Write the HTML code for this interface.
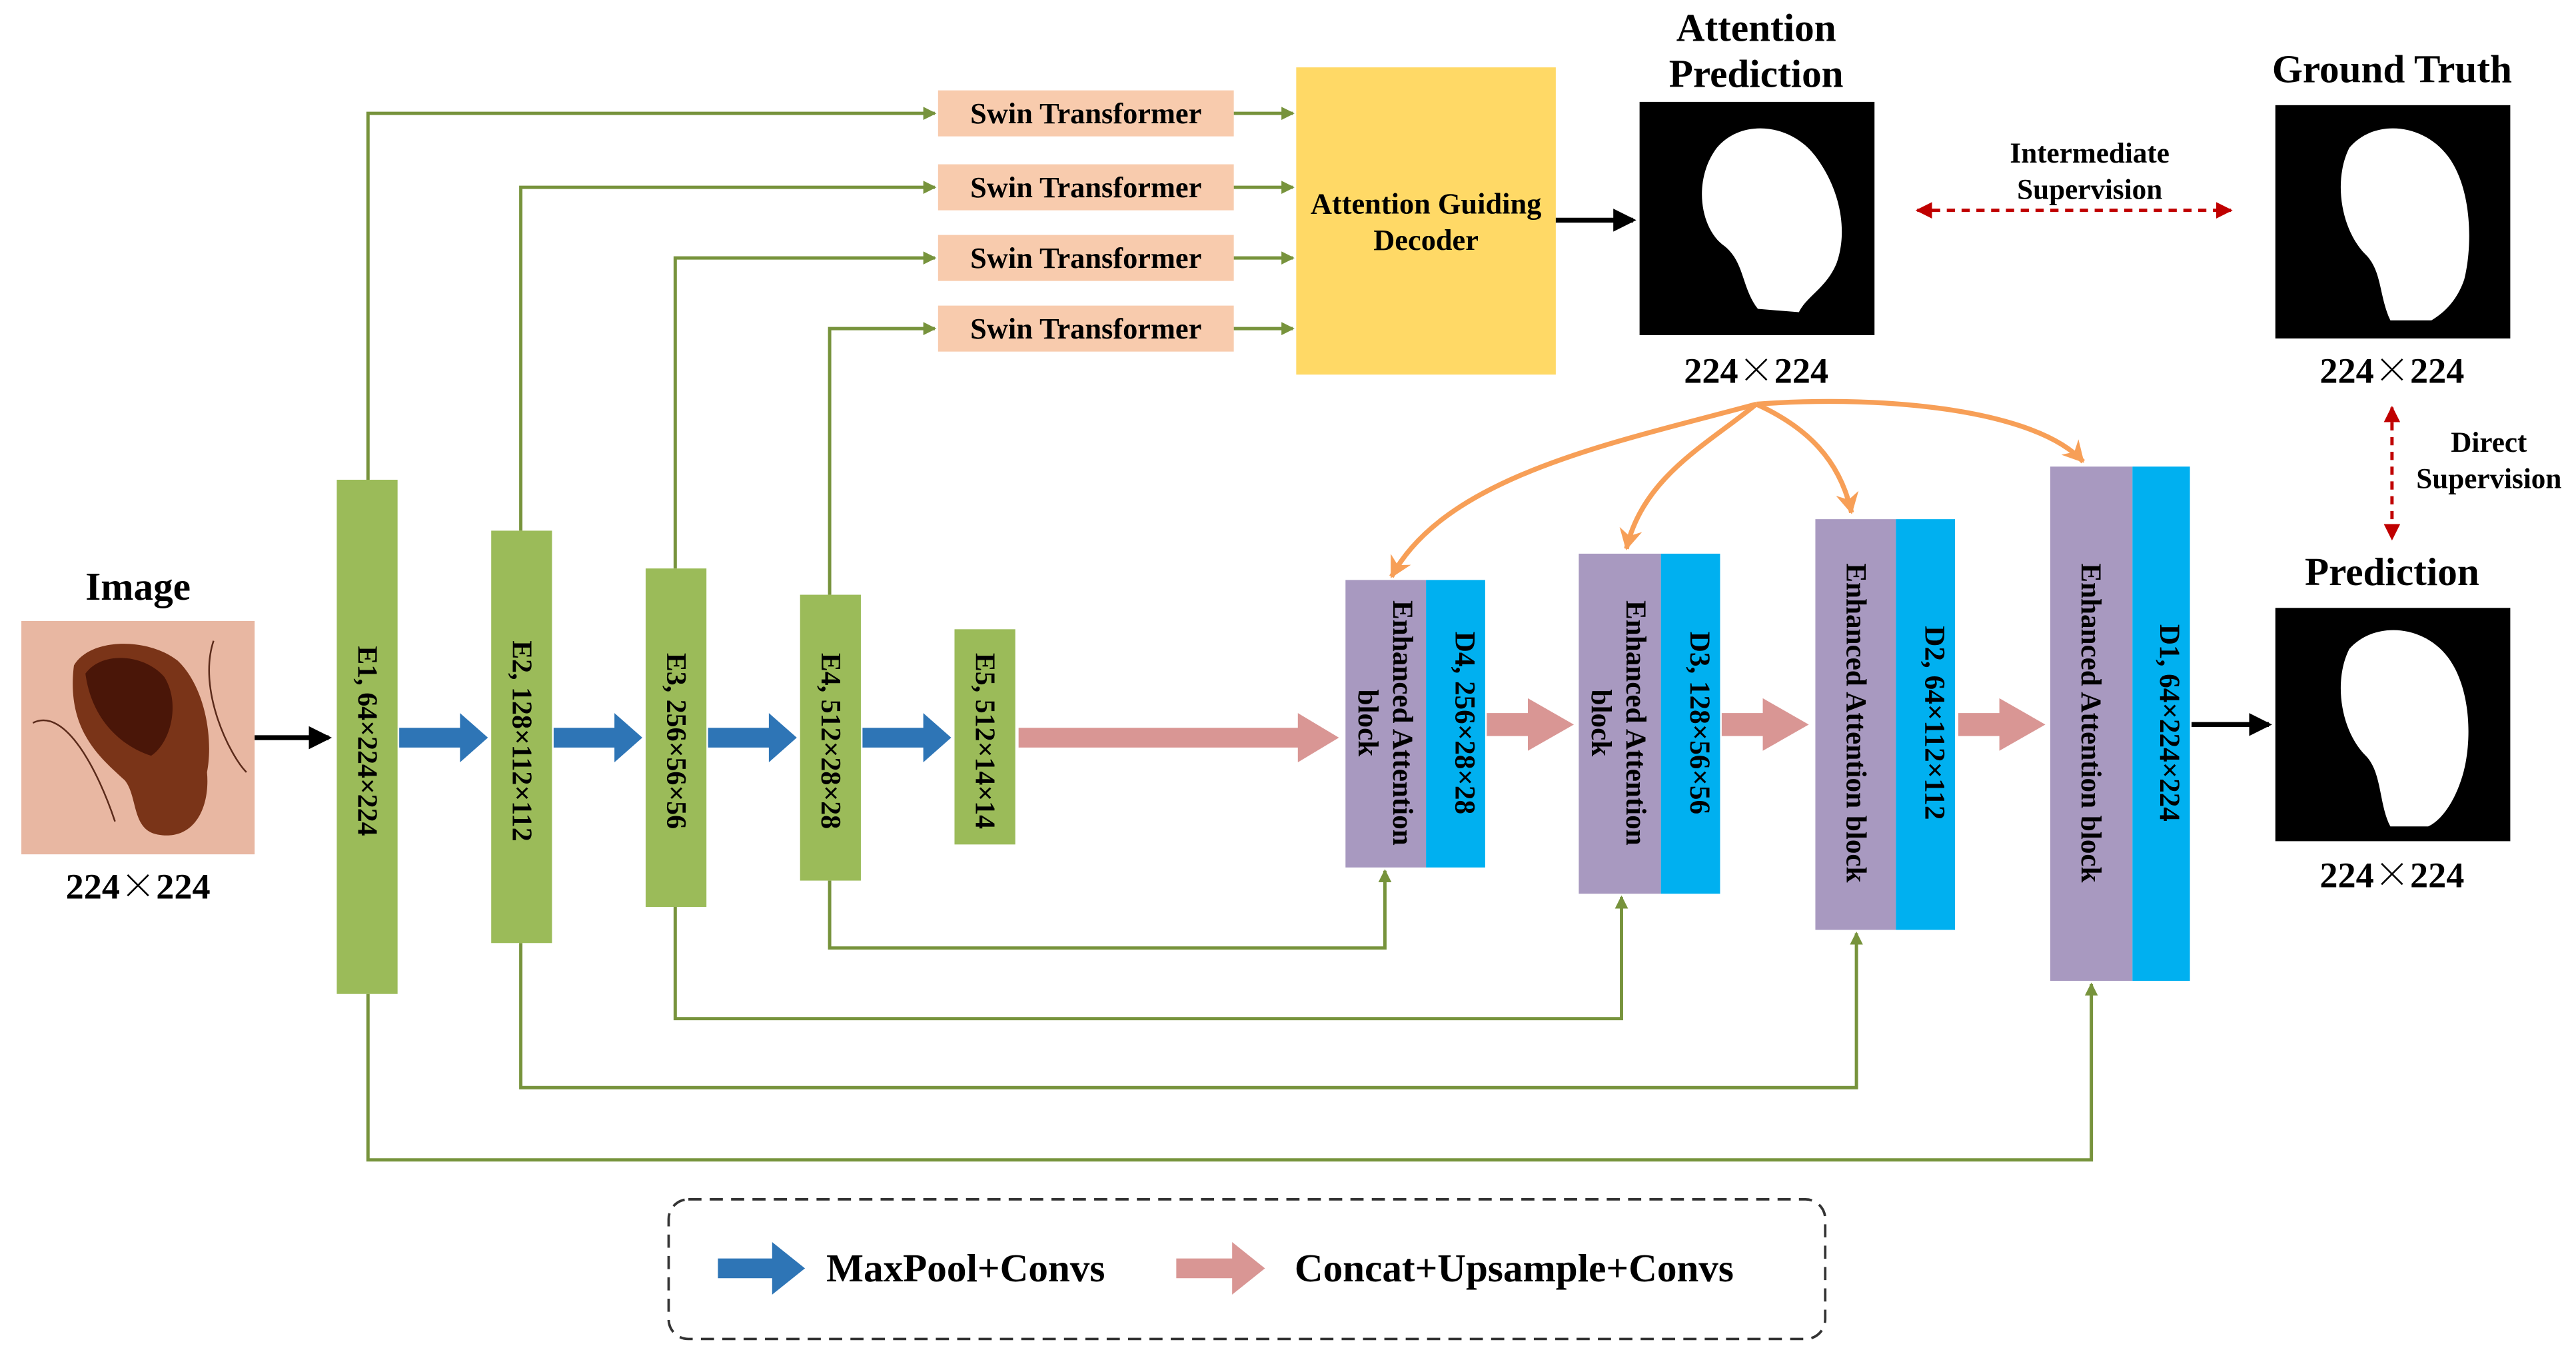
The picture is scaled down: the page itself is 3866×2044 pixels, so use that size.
<!DOCTYPE html>
<html><head><meta charset="utf-8">
<style>
html,body{margin:0;padding:0;background:#fff;}
svg{display:block;}
text{font-family:"Liberation Serif",serif;font-weight:bold;fill:#000;}
.w{font-family:"Noto Serif CJK SC","Noto Sans CJK SC",serif;}
</style></head>
<body>
<svg width="3866" height="2044" viewBox="0 0 1568 829" xmlns="http://www.w3.org/2000/svg">
<defs>
<marker id="ga" markerWidth="8" markerHeight="8" refX="7" refY="4" orient="auto" markerUnits="userSpaceOnUse"><path d="M0,0 L8,4 L0,8 Z" fill="#77933c"/></marker>
<marker id="oa" markerWidth="14" markerHeight="14" refX="12" refY="7" orient="auto" markerUnits="userSpaceOnUse"><path d="M0,0 L13,7 L0,14 L4,7 Z" fill="#f79f57"/></marker>
<marker id="ra" markerWidth="10" markerHeight="10" refX="9" refY="5" orient="auto" markerUnits="userSpaceOnUse"><path d="M0,0 L10,5 L0,10 Z" fill="#c00000"/></marker>
<marker id="rs" markerWidth="10" markerHeight="10" refX="1" refY="5" orient="auto" markerUnits="userSpaceOnUse"><path d="M10,0 L0,5 L10,10 Z" fill="#c00000"/></marker>
<marker id="ba" markerWidth="14" markerHeight="14" refX="12" refY="7" orient="auto" markerUnits="userSpaceOnUse"><path d="M0,0 L14,7 L0,14 Z" fill="#000"/></marker>
</defs>

<!-- Image -->
<text x="84" y="365" font-size="24" text-anchor="middle">Image</text>
<rect x="13" y="378" width="142" height="142" fill="#e8b7a2"/>
<path d="M45,405 C55,388 90,388 108,402 C125,418 130,450 126,470 C128,492 118,512 96,508 C80,505 84,485 76,475 C62,462 40,445 45,405 Z" fill="#7a3418"/>
<path d="M52,410 C62,396 88,398 100,412 C110,428 104,452 92,460 C76,455 56,440 52,410 Z" fill="#4a1608"/>
<path d="M20,440 C40,430 60,470 70,500 M130,390 C120,420 140,460 150,470" stroke="#5a2a1a" stroke-width="1" fill="none"/>
<text x="84" y="547" font-size="22" text-anchor="middle">224<tspan class="w">×</tspan>224</text>
<line x1="155" y1="449" x2="200" y2="449" stroke="#000" stroke-width="3" marker-end="url(#ba)"/>

<!-- Green skip lines -->
<g stroke="#77933c" stroke-width="2" fill="none">
<polyline points="224,292 224,69 569,69" marker-end="url(#ga)"/>
<polyline points="317,323 317,114 569,114" marker-end="url(#ga)"/>
<polyline points="411,346 411,157 569,157" marker-end="url(#ga)"/>
<polyline points="505,362 505,200 569,200" marker-end="url(#ga)"/>
<line x1="751" y1="69" x2="787" y2="69" marker-end="url(#ga)"/>
<line x1="751" y1="114" x2="787" y2="114" marker-end="url(#ga)"/>
<line x1="751" y1="157" x2="787" y2="157" marker-end="url(#ga)"/>
<line x1="751" y1="200" x2="787" y2="200" marker-end="url(#ga)"/>
<polyline points="505,536 505,577 843,577 843,530" marker-end="url(#ga)"/>
<polyline points="411,552 411,620 987,620 987,546" marker-end="url(#ga)"/>
<polyline points="317,574 317,662 1130,662 1130,568" marker-end="url(#ga)"/>
<polyline points="224,605 224,706 1273,706 1273,599" marker-end="url(#ga)"/>
</g>

<!-- Encoders -->
<g fill="#9bbb59">
<rect x="205" y="292" width="37" height="313"/>
<rect x="299" y="323" width="37" height="251"/>
<rect x="393" y="346" width="37" height="206"/>
<rect x="487" y="362" width="37" height="174"/>
<rect x="581" y="383" width="37" height="131"/>
</g>
<g font-size="17" text-anchor="middle">
<text transform="translate(218,451) rotate(90)">E1, 64×224×224</text>
<text transform="translate(312,451) rotate(90)">E2, 128×112×112</text>
<text transform="translate(406,451) rotate(90)">E3, 256×56×56</text>
<text transform="translate(500,451) rotate(90)">E4, 512×28×28</text>
<text transform="translate(594,451) rotate(90)">E5, 512×14×14</text>
</g>

<!-- Blue arrows -->
<g fill="#2e75b6">
<path d="M243,443 H280 V434 L297,449 L280,464 V455 H243 Z"/>
<path d="M337,443 H374 V434 L391,449 L374,464 V455 H337 Z"/>
<path d="M431,443 H468 V434 L485,449 L468,464 V455 H431 Z"/>
<path d="M525,443 H562 V434 L579,449 L562,464 V455 H525 Z"/>
</g>
<g fill="#d99694">
<path d="M620,443 H790 V434 L815,449 L790,464 V455 H620 Z"/>
<path d="M905,434 H930 V425 L958,441 L930,457 V448 H905 Z"/>
<path d="M1048,434 H1073 V425 L1101,441 L1073,457 V448 H1048 Z"/>
<path d="M1192,434 H1217 V425 L1245,441 L1217,457 V448 H1192 Z"/>
</g>

<!-- Swin -->
<g fill="#f8cbad">
<rect x="571" y="55" width="180" height="28"/>
<rect x="571" y="100" width="180" height="28"/>
<rect x="571" y="143" width="180" height="28"/>
<rect x="571" y="186" width="180" height="28"/>
</g>
<g font-size="18" text-anchor="middle">
<text x="661" y="75">Swin Transformer</text>
<text x="661" y="120">Swin Transformer</text>
<text x="661" y="163">Swin Transformer</text>
<text x="661" y="206">Swin Transformer</text>
</g>
<rect x="789" y="41" width="158" height="187" fill="#ffd966"/>
<text x="868" y="130" font-size="18" text-anchor="middle">Attention Guiding</text>
<text x="868" y="152" font-size="18" text-anchor="middle">Decoder</text>
<line x1="947" y1="134" x2="994" y2="134" stroke="#000" stroke-width="3" marker-end="url(#ba)"/>

<!-- Attention prediction -->
<text x="1069" y="25" font-size="24" text-anchor="middle">Attention</text>
<text x="1069" y="53" font-size="24" text-anchor="middle">Prediction</text>
<rect x="998" y="62" width="143" height="142" fill="#000"/>
<path d="M1045,90 C1060,72 1090,75 1105,95 C1120,115 1125,140 1118,160 C1112,175 1100,180 1095,190 L1070,188 C1060,175 1062,160 1050,150 C1035,140 1030,110 1045,90 Z" fill="#fff"/>
<text x="1069" y="233" font-size="22" text-anchor="middle">224<tspan class="w">×</tspan>224</text>

<!-- Ground truth -->
<text x="1456" y="50" font-size="24" text-anchor="middle">Ground Truth</text>
<rect x="1385" y="64" width="143" height="142" fill="#000"/>
<path d="M1430,90 C1445,72 1475,75 1490,95 C1505,115 1505,150 1500,170 C1495,185 1485,192 1480,195 L1455,195 C1448,180 1450,165 1440,155 C1425,140 1420,110 1430,90 Z" fill="#fff"/>
<text x="1456" y="233" font-size="22" text-anchor="middle">224<tspan class="w">×</tspan>224</text>

<line x1="1167" y1="128" x2="1358" y2="128" stroke="#c00000" stroke-width="2" stroke-dasharray="5,4" marker-end="url(#ra)" marker-start="url(#rs)"/>
<text x="1272" y="99" font-size="17.5" text-anchor="middle">Intermediate</text>
<text x="1272" y="121" font-size="17.5" text-anchor="middle">Supervision</text>

<line x1="1456" y1="248" x2="1456" y2="328" stroke="#c00000" stroke-width="2" stroke-dasharray="5,4" marker-end="url(#ra)" marker-start="url(#rs)"/>
<text x="1515" y="275" font-size="17.5" text-anchor="middle">Direct</text>
<text x="1515" y="297" font-size="17.5" text-anchor="middle">Supervision</text>

<!-- Prediction -->
<text x="1456" y="356" font-size="24" text-anchor="middle">Prediction</text>
<rect x="1385" y="370" width="143" height="142" fill="#000"/>
<path d="M1430,395 C1445,378 1475,380 1490,400 C1505,420 1505,455 1498,475 C1493,490 1485,500 1478,503 L1455,503 C1448,490 1450,470 1440,460 C1425,445 1420,415 1430,395 Z" fill="#fff"/>
<text x="1456" y="540" font-size="22" text-anchor="middle">224<tspan class="w">×</tspan>224</text>

<!-- Decoder blocks -->
<g fill="#a899c0">
<rect x="819" y="353" width="49" height="175"/>
<rect x="961" y="337" width="50" height="207"/>
<rect x="1105" y="316" width="49" height="250"/>
<rect x="1248" y="284" width="50" height="313"/>
</g>
<g fill="#00b0f0">
<rect x="868" y="353" width="36" height="175"/>
<rect x="1011" y="337" width="36" height="207"/>
<rect x="1154" y="316" width="36" height="250"/>
<rect x="1298" y="284" width="35" height="313"/>
</g>
<g font-size="17.5" text-anchor="middle">
<text transform="translate(848,440) rotate(90)">Enhanced Attention</text>
<text transform="translate(827,440) rotate(90)">block</text>
<text transform="translate(886,440) rotate(90)">D4, 256×28×28</text>
<text transform="translate(990,440) rotate(90)">Enhanced Attention</text>
<text transform="translate(969,440) rotate(90)">block</text>
<text transform="translate(1029,440) rotate(90)">D3, 128×56×56</text>
<text transform="translate(1124,440) rotate(90)">Enhanced Attention block</text>
<text transform="translate(1172,440) rotate(90)">D2, 64×112×112</text>
<text transform="translate(1267,440) rotate(90)">Enhanced Attention block</text>
<text transform="translate(1315,440) rotate(90)">D1, 64×224×224</text>
</g>
<line x1="1334" y1="441" x2="1381" y2="441" stroke="#000" stroke-width="3" marker-end="url(#ba)"/>

<!-- Orange curves -->
<g stroke="#f79f57" stroke-width="3" fill="none">
<path d="M1069,246 C980,270 880,290 847,351" marker-end="url(#oa)"/>
<path d="M1069,246 C1040,270 1000,290 990,334" marker-end="url(#oa)"/>
<path d="M1069,246 C1100,260 1120,280 1127,312" marker-end="url(#oa)"/>
<path d="M1069,246 C1150,240 1240,250 1268,281" marker-end="url(#oa)"/>
</g>

<!-- Legend -->
<rect x="407" y="730" width="704" height="85" rx="12" fill="none" stroke="#333" stroke-width="1.5" stroke-dasharray="8,5"/>
<path d="M437,766 H470 V756 L490,772 L470,788 V778 H437 Z" fill="#2e75b6"/>
<text x="503" y="780" font-size="24">MaxPool+Convs</text>
<path d="M716,766 H750 V756 L770,772 L750,788 V778 H716 Z" fill="#d99694"/>
<text x="788" y="780" font-size="24">Concat+Upsample+Convs</text>
</svg>
</body></html>
